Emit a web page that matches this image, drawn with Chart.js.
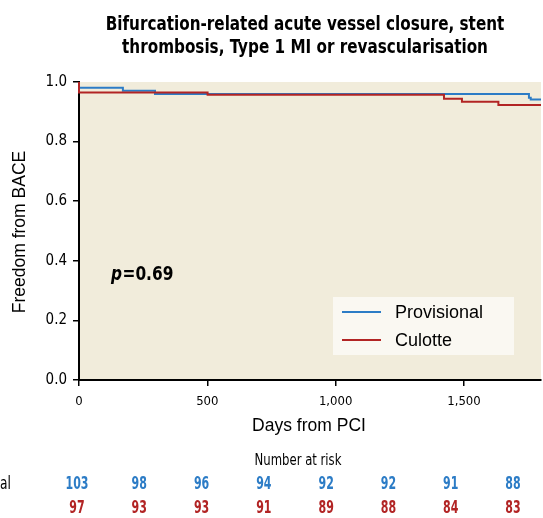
<!DOCTYPE html>
<html>
<head>
<meta charset="utf-8">
<script src="https://cdn.jsdelivr.net/npm/chart.js@4.4.1/dist/chart.umd.min.js"></script>
<style>
  html, body { margin: 0; padding: 0; background: #fff; }
</style>
</head>
<body>
<canvas id="myChart" width="543" height="518"></canvas>
<script>
// データ
const seriesNames = ['Provisional', 'Culotte'];
const provisionalDays = [0, 0, 171, 296, 1753, 1760, 1800];
const provisionalSurv = [1.0, 0.981, 0.971, 0.960, 0.947, 0.941, 0.941];
const culotteDays = [0, 0, 501, 1422, 1492, 1634, 1800];
const culotteSurv = [1.0, 0.965, 0.957, 0.944, 0.934, 0.923, 0.923];
const xTicks = [0, 500, 1000, 1500];
const yTicks = [0, 0.2, 0.4, 0.6, 0.8, 1.0];
const riskProvisional = [103, 98, 96, 94, 92, 92, 91, 88];
const riskCulotte = [97, 93, 93, 91, 89, 88, 84, 83];
const pValue = '0.69';

const BLUE = '#2c7cc6';
const RED = '#b22424';
const NARROW = '"DejaVu Sans Condensed", "Liberation Sans Narrow", sans-serif';
const REGULAR = '"Liberation Sans", Arial, sans-serif';

const toPoints = (xs, ys) => xs.map((x, i) => ({ x: x, y: ys[i] }));

// 横方向に縮めて文字を描く（細字フォントの代わり）
function narrowText(ctx, text, x, y, sx) {
    ctx.save();
    ctx.translate(x, y);
    ctx.scale(sx, 1);
    ctx.fillText(text, 0, 0);
    ctx.restore();
}

// 背景・タイトル・凡例・リスク表を描くプラグイン
const decorPlugin = {
    id: 'decor',
    beforeDraw(chart) {
        const { ctx, chartArea: a } = chart;
        ctx.save();
        ctx.fillStyle = '#f1ecdb';
        ctx.fillRect(a.left, a.top, a.right - a.left, a.bottom - a.top);
        ctx.restore();
    },
    afterDraw(chart) {
        const { ctx, chartArea: a } = chart;
        ctx.save();
        ctx.textBaseline = 'middle';

        // タイトル
        ctx.fillStyle = '#000';
        ctx.textAlign = 'center';
        ctx.font = 'bold 19px ' + NARROW;
        narrowText(ctx, 'Bifurcation-related acute vessel closure, stent', 305, 25, 0.89);
        narrowText(ctx, 'thrombosis, Type 1 MI or revascularisation', 305, 48, 0.89);

        // 軸タイトル
        ctx.font = '17.5px ' + REGULAR;
        ctx.fillText('Days from PCI', (a.left + a.right) / 2 - 1, 426);
        ctx.save();
        ctx.translate(20, (a.top + a.bottom) / 2 + 1);
        ctx.rotate(-Math.PI / 2);
        ctx.fillText('Freedom from BACE', 0, 0);
        ctx.restore();

        // p値
        ctx.textAlign = 'left';
        ctx.font = 'italic bold 19px ' + NARROW;
        narrowText(ctx, 'p', 111, 275, 0.9);
        const pw = ctx.measureText('p').width * 0.9;
        ctx.font = 'bold 19px ' + NARROW;
        narrowText(ctx, '=' + pValue, 111 + pw + 0.5, 275, 0.9);

        // 凡例
        const bx = a.right - 208, by = a.bottom - 83;
        ctx.fillStyle = '#faf8f2';
        ctx.fillRect(bx, by, 181, 58);
        const colors = [BLUE, RED];
        ctx.font = '18px ' + REGULAR;
        seriesNames.forEach((name, i) => {
            const y = by + 15 + i * 28;
            ctx.strokeStyle = colors[i];
            ctx.lineWidth = 2;
            ctx.beginPath();
            ctx.moveTo(bx + 9, y);
            ctx.lineTo(bx + 48, y);
            ctx.stroke();
            ctx.fillStyle = '#000';
            ctx.fillText(name, bx + 62, y + 1);
        });

        // Number at risk 表
        ctx.fillStyle = '#000';
        ctx.textAlign = 'center';
        ctx.font = '16px ' + NARROW;
        narrowText(ctx, 'Number at risk', 298, 461, 0.81);
        ctx.textAlign = 'left';
        ctx.font = '17px ' + NARROW;
        const labelStart = 11 - ctx.measureText(seriesNames[0]).width * 0.8;
        narrowText(ctx, seriesNames[0], labelStart, 485, 0.8);
        narrowText(ctx, seriesNames[1], labelStart, 509, 0.8);
        const x0 = a.left - 2, x1 = a.right - 28;
        const step = (x1 - x0) / (riskProvisional.length - 1);
        ctx.textAlign = 'center';
        ctx.font = 'bold 17px ' + NARROW;
        riskProvisional.forEach((v, i) => {
            ctx.fillStyle = BLUE;
            narrowText(ctx, String(v), x0 + i * step, 485, 0.72);
        });
        riskCulotte.forEach((v, i) => {
            ctx.fillStyle = RED;
            narrowText(ctx, String(v), x0 + i * step, 509, 0.72);
        });
        ctx.restore();
    }
};

const ctx = document.getElementById('myChart').getContext('2d');
const kmChart = new Chart(ctx, {
    type: 'line',
    data: {
        datasets: [
            {
                label: seriesNames[1],
                data: toPoints(culotteDays, culotteSurv),
                borderColor: RED,
                borderWidth: 2,
                stepped: true,
                pointRadius: 0,
                fill: false,
                clip: false
            },
            {
                label: seriesNames[0],
                data: toPoints(provisionalDays, provisionalSurv),
                borderColor: BLUE,
                borderWidth: 2,
                stepped: true,
                pointRadius: 0,
                fill: false,
                clip: false
            }
        ]
    },
    options: {
        responsive: false,
        animation: false,
        devicePixelRatio: 1,
        layout: { padding: { top: 82, right: 2, left: 0, bottom: 0 } },
        plugins: {
            legend: { display: false },
            title: { display: false },
            tooltip: { enabled: false }
        },
        scales: {
            x: {
                type: 'linear',
                min: 0,
                max: 1800,
                afterFit: s => { s.height = 138; },
                afterBuildTicks: s => { s.ticks = xTicks.map(v => ({ value: v })); },
                border: { color: '#000', width: 2 },
                grid: { drawOnChartArea: false, drawTicks: true, tickLength: 6, color: '#000', lineWidth: 1.5 },
                ticks: {
                    padding: 8,
                    color: '#000',
                    maxRotation: 0,
                    font: { family: NARROW, size: 13 },
                    callback: v => v.toLocaleString('en-US')
                }
            },
            y: {
                type: 'linear',
                min: 0,
                max: 1,
                afterFit: s => { s.width = 79; },
                afterBuildTicks: s => { s.ticks = yTicks.map(v => ({ value: v })); },
                border: { color: '#000', width: 2 },
                grid: { drawOnChartArea: false, drawTicks: true, tickLength: 6, color: '#000', lineWidth: 1.5 },
                ticks: {
                    padding: 6,
                    color: '#000',
                    font: { family: NARROW, size: 15 },
                    callback: v => v.toFixed(1)
                }
            }
        }
    },
    plugins: [decorPlugin]
});
</script>
</body>
</html>
